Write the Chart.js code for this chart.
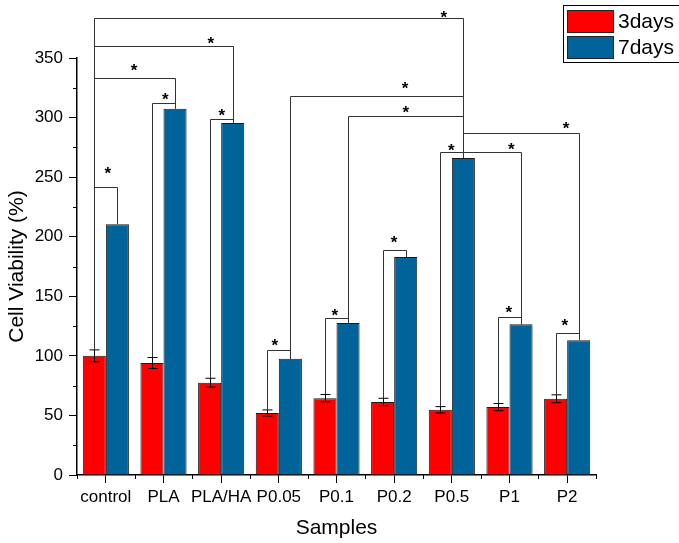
<!DOCTYPE html>
<html>
<head>
<meta charset="utf-8">
<script src="https://cdn.jsdelivr.net/npm/chart.js@4.4.0/dist/chart.umd.min.js"></script>
<style>
  html, body { margin: 0; padding: 0; background: #fff; }
  #wrap { width: 679px; height: 543px; }
</style>
</head>
<body>
<div id="wrap"><canvas id="chart" width="679" height="543"></canvas></div>
<script>
// data
const categories = ["control", "PLA", "PLA/HA", "P0.05", "P0.1", "P0.2", "P0.5", "P1", "P2"];
const days3 = [100, 94, 77.5, 52, 64.5, 61.3, 54.7, 57, 64];
const days3Err = [5, 4.6, 3.7, 2.6, 3.1, 3.1, 2.7, 3, 3.3];
const days7 = [210.5, 307.5, 295.5, 97.5, 127.5, 183, 266, 126.5, 113.2];
const yTicks = [0, 50, 100, 150, 200, 250, 300, 350];
const yMinor = [25, 75, 125, 175, 225, 275, 325];

// significance brackets: [fromCat, fromSeries, toCat, toSeries, height, starCat, starValue]
const brackets = [
  [0, 0, 0, 1, 241.4, 0.035, 255.5],
  [0, 0, 1, 1, 333.6, 0.49, 341.8],
  [0, 0, 2, 1, 359.7, 1.82, 364.7],
  [0, 0, 6, 1, 383.2, 5.86, 386.6],
  [1, 0, 1, 1, 312.4, 1.03, 317.4],
  [2, 0, 2, 1, 299.2, 2.01, 304.5],
  [3, 0, 3, 1, 104.5, 2.93, 111.2],
  [4, 0, 4, 1, 131.7, 3.97, 136.1],
  [5, 0, 5, 1, 188.5, 5.0, 197.5],
  [3, 1, 6, 1, 318.5, 5.19, 326.9],
  [4, 1, 6, 1, 301.1, 5.2, 306.7],
  [6, 0, 6, 1, 271.2, 5.99, 275],
  [6, 1, 7, 1, 271.4, 7.03, 275.6],
  [6, 1, 8, 1, 287.1, 7.98, 293.3],
  [7, 0, 7, 1, 132.2, 6.99, 138.7],
  [8, 0, 8, 1, 119.6, 7.96, 128]
];

const FONT = "'Liberation Sans', Arial, sans-serif";
const RED = "#ff0000";
const BLUE = "#00649b";

const extras = {
  id: "extras",
  afterDatasetsDraw(chart) {
    const ctx = chart.ctx;
    const y = chart.scales.y;
    const red = chart.getDatasetMeta(0).data;
    ctx.save();
    ctx.strokeStyle = "#000";
    ctx.lineWidth = 1;
    // error bars
    red.forEach((bar, i) => {
      const x = Math.round(bar.x) + 0.5;
      const yt = y.getPixelForValue(days3[i] + days3Err[i]);
      const yb = y.getPixelForValue(days3[i] - days3Err[i]);
      ctx.beginPath();
      ctx.moveTo(x, yt); ctx.lineTo(x, yb);
      ctx.moveTo(x - 5, yt); ctx.lineTo(x + 5, yt);
      ctx.moveTo(x - 5, yb); ctx.lineTo(x + 5, yb);
      ctx.stroke();
    });
    ctx.restore();
  },
  afterDraw(chart) {
    const ctx = chart.ctx;
    const xs = chart.scales.x;
    const ys = chart.scales.y;
    const area = chart.chartArea;
    const metas = [chart.getDatasetMeta(0).data, chart.getDatasetMeta(1).data];
    const tops = [days3.map((v, i) => v + days3Err[i]), days7];
    ctx.save();

    // minor ticks
    ctx.strokeStyle = "#000";
    ctx.lineWidth = 1;
    ctx.beginPath();
    yMinor.forEach(v => {
      const p = Math.round(ys.getPixelForValue(v)) + 0.5;
      ctx.moveTo(area.left - 4, p); ctx.lineTo(area.left, p);
    });
    for (let i = 0; i <= categories.length; i++) {
      let p;
      if (i === 0) p = area.left;
      else if (i === categories.length) p = area.right;
      else p = (xs.getPixelForValue(i - 1) + xs.getPixelForValue(i)) / 2;
      p = Math.round(p) + 0.5;
      ctx.moveTo(p, area.bottom); ctx.lineTo(p, area.bottom + 4);
    }
    ctx.stroke();

    // brackets
    ctx.strokeStyle = "#333";
    ctx.lineWidth = 1;
    brackets.forEach(b => {
      const [c1, s1, c2, s2, h, sc, sv] = b;
      const x1 = Math.round(metas[s1][c1].x) + 0.5;
      const x2 = Math.round(metas[s2][c2].x) + 0.5;
      const yh = Math.round(ys.getPixelForValue(h)) + 0.5;
      ctx.beginPath();
      ctx.moveTo(x1, ys.getPixelForValue(tops[s1][c1]));
      ctx.lineTo(x1, yh);
      ctx.lineTo(x2, yh);
      ctx.lineTo(x2, ys.getPixelForValue(tops[s2][c2]));
      ctx.stroke();
    });

    // stars
    ctx.fillStyle = "#000";
    ctx.font = "bold 17px " + FONT;
    ctx.textAlign = "center";
    ctx.textBaseline = "alphabetic";
    const m = ctx.measureText("*");
    const off = (m.actualBoundingBoxAscent - m.actualBoundingBoxDescent) / 2;
    brackets.forEach(b => {
      const sx = xs.getPixelForValue(b[5]);
      const sy = ys.getPixelForValue(b[6]);
      ctx.fillText("*", sx, sy + off);
    });

    // legend
    ctx.lineWidth = 1;
    ctx.strokeStyle = "#000";
    ctx.strokeRect(563.5, 5.5, 130, 57);
    const sets = chart.data.datasets;
    sets.forEach((ds, i) => {
      const top = 10 + i * 26;
      ctx.fillStyle = ds.backgroundColor;
      ctx.fillRect(567, top, 47, 23);
      ctx.strokeStyle = "#222";
      ctx.strokeRect(567.5, top + 0.5, 46, 22);
      ctx.fillStyle = "#000";
      ctx.font = "21px " + FONT;
      ctx.textAlign = "left";
      ctx.textBaseline = "middle";
      ctx.fillText(ds.label, 618, top + 12.5);
    });
    ctx.restore();
  }
};

new Chart(document.getElementById("chart"), {
  type: "bar",
  data: {
    labels: categories,
    datasets: [
      { label: "3days", data: days3, backgroundColor: RED, borderColor: "#1a1a1a", borderWidth: 1 },
      { label: "7days", data: days7, backgroundColor: BLUE, borderColor: "#1a1a1a", borderWidth: 1 }
    ]
  },
  options: {
    responsive: false,
    animation: false,
    devicePixelRatio: 1,
    categoryPercentage: 0.8,
    barPercentage: 1.0,
    layout: { padding: { top: 58, right: 83, left: 0, bottom: 0 } },
    plugins: { legend: { display: false }, tooltip: { enabled: false } },
    scales: {
      x: {
        grid: { offset: false, drawOnChartArea: false, tickLength: 8, tickColor: "#000", tickWidth: 1 },
        border: { color: "#000", width: 1.5 },
        ticks: { color: "#000", font: { family: FONT, size: 17 }, padding: 4, maxRotation: 0, autoSkip: false },
        title: { display: true, text: "Samples", color: "#000", font: { family: FONT, size: 21 }, padding: { top: 0, bottom: 2 } },
        afterFit(scale) { scale.height = 68; }
      },
      y: {
        min: 0,
        max: 350,
        grid: { drawOnChartArea: false, tickLength: 8, tickColor: "#000", tickWidth: 1 },
        border: { color: "#000", width: 1.5 },
        ticks: {
          color: "#000", font: { family: FONT, size: 17 }, padding: 6, stepSize: 50,
          callback: v => yTicks.includes(v) ? v : ""
        },
        title: { display: true, text: "Cell Viability (%)", color: "#000", font: { family: FONT, size: 21 }, padding: { top: 5, bottom: 0 } },
        afterFit(scale) { scale.width = 77; }
      }
    }
  },
  plugins: [extras]
});
</script>
</body>
</html>
